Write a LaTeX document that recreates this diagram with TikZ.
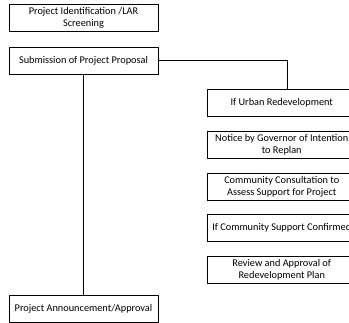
\documentclass[tikz,border=0pt]{standalone}
\usepackage{fontspec}
\setmainfont{Carlito}
\usetikzlibrary{positioning}

\begin{document}
\begin{tikzpicture}
  \newcommand\boxgap{14pt}
  \newcommand\topgap{15pt}
  \newcommand\boxtext{\fontsize{10.3}{12.2}\selectfont}

  \tikzset{stagebox/.style={draw, line width=0.75pt, align=center, inner sep=1pt, minimum height=27pt, font=\boxtext}}
  \tikzset{leftbox/.style={stagebox, minimum width=149pt}}
  \tikzset{rightbox/.style={stagebox, minimum width=148pt}}
  \tikzset{link/.style={line width=0.75pt}}

  \useasboundingbox (0,0) rectangle (349pt,-323pt);

  % left column
  \node[leftbox] at (83.5pt, -18pt) (ident) {Project Identification /LAR\\Screening};
  \node[leftbox, below=\topgap of ident] (submit) {Submission of Project Proposal};
  \node[leftbox, below=220pt of submit] (announce) {Project Announcement/Approval};

  % right column
  \node[rightbox, below right=14.5pt and 49pt of submit] (rc1) {If Urban Redevelopment};
  \foreach \stage/\idx [count=\x from 1] in {{Notice by Governor of Intention\\to Replan}/2, {Community Consultation to\\Assess Support for Project}/3, {If Community Support Confirmed}/4, {Review and Approval of\\Redevelopment Plan}/5}{
    \node[rightbox, below=\boxgap of rc\x] (rc\idx) {\stage};
  }

  % links
  \draw[link] (submit.south) -- (announce.north);
  \draw[link] (submit.east) -| ([xshift=6pt]rc1.north);
\end{tikzpicture}
\end{document}
